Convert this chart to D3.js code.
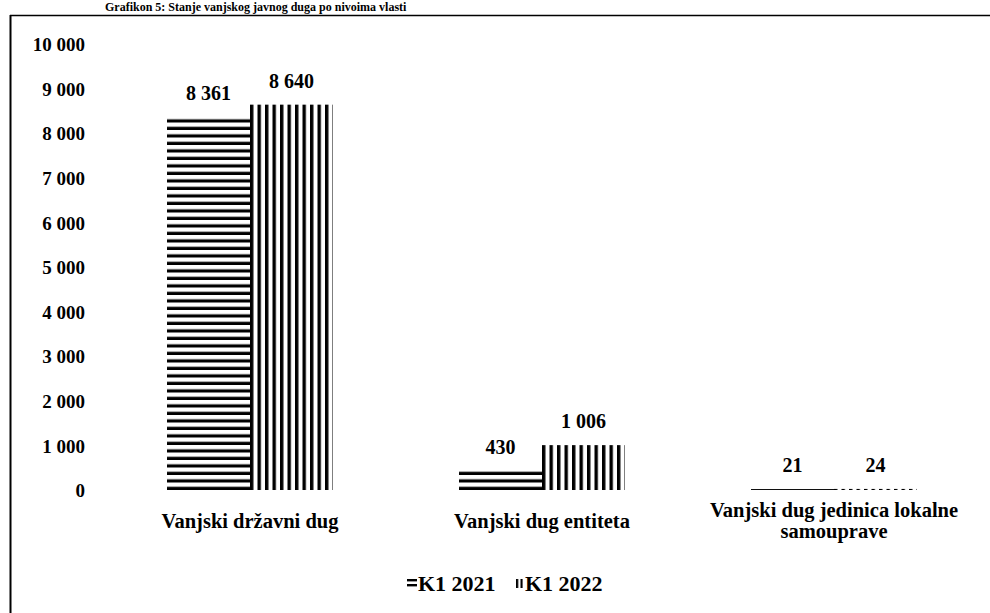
<!DOCTYPE html>
<html>
<head>
<meta charset="utf-8">
<script src="https://cdn.jsdelivr.net/npm/d3@7/dist/d3.min.js"></script>
<style>
  html, body { margin: 0; padding: 0; background: #fff; }
  svg { display: block; }
  text { font-family: "Liberation Serif", "Times New Roman", serif; fill: #000; }
</style>
</head>
<body>
<svg id="chart" width="990" height="613"></svg>
<script>
// ---- data ----
const titleText = "Grafikon 5: Stanje vanjskog javnog duga po nivoima vlasti";
const categories = [
  ["Vanjski državni dug"],
  ["Vanjski dug entiteta"],
  ["Vanjski dug jedinica lokalne", "samouprave"]
];
const seriesNames = ["K1 2021", "K1 2022"];
const seriesK12021 = [8361, 430, 21];
const seriesK12022 = [8640, 1006, 24];
const yTicks = [0, 1000, 2000, 3000, 4000, 5000, 6000, 7000, 8000, 9000, 10000];

const series = [seriesK12021, seriesK12022];
const catKeys = categories.map((c, i) => i);

const svg = d3.select("#chart");
const locale = d3.formatLocale({decimal: ",", thousands: " ", grouping: [3], currency: ["", ""]});
const fmt = locale.format(",d");

const baseY = 490;
const y = d3.scaleLinear().domain([0, 10000]).range([baseY, 44]);
const x0 = d3.scalePoint().domain(catKeys).range([250, 834]);
const x1 = d3.scaleBand().domain([0, 1]).range([-83, 83]).padding(0);

// patterns
const defs = svg.append("defs");
const period = 7.5;
const ph = defs.append("pattern").attr("id", "phoriz")
  .attr("patternUnits", "userSpaceOnUse")
  .attr("width", 10).attr("height", period)
  .attr("y", baseY % period);
ph.append("rect").attr("x", 0).attr("y", period - 3.2).attr("width", 10).attr("height", 3.2).attr("fill", "#000");

const pv = defs.append("pattern").attr("id", "pvert")
  .attr("patternUnits", "userSpaceOnUse")
  .attr("width", period).attr("height", 10);
pv.append("rect").attr("x", 0).attr("y", 0).attr("width", 3.4).attr("height", 10).attr("fill", "#000");

const lh = defs.append("pattern").attr("id", "lhoriz")
  .attr("patternUnits", "userSpaceOnUse").attr("width", 10).attr("height", 5);
lh.append("rect").attr("x", 0).attr("y", 0).attr("width", 10).attr("height", 2.4).attr("fill", "#000");
const lv = defs.append("pattern").attr("id", "lvert")
  .attr("patternUnits", "userSpaceOnUse").attr("width", 4.5).attr("height", 10);
lv.append("rect").attr("x", 0).attr("y", 0).attr("width", 2.2).attr("height", 10).attr("fill", "#000");

const fills = ["url(#phoriz)", "url(#pvert)"];
const legendFills = ["url(#lhoriz)", "url(#lvert)"];

// frame
svg.append("line").attr("x1", 10).attr("x2", 990).attr("y1", 15.5).attr("y2", 15.5)
  .attr("stroke", "#000").attr("stroke-width", 1.4);
svg.append("line").attr("x1", 10.5).attr("x2", 10.5).attr("y1", 15).attr("y2", 613)
  .attr("stroke", "#000").attr("stroke-width", 2);

// title (cut off at the top in the source scan; kept readable here)
svg.append("text").attr("x", 105).attr("y", 11)
  .attr("font-size", 12).attr("font-weight", "bold").text(titleText);

// y axis labels
const yAxis = d3.axisLeft(y).tickValues(yTicks).tickFormat(fmt).tickSize(0).tickPadding(0);
const ga = svg.append("g").attr("transform", "translate(85,0)").call(yAxis);
ga.select(".domain").remove();
ga.selectAll("text")
  .attr("font-family", "Liberation Serif, serif")
  .attr("font-size", 19).attr("font-weight", "bold").attr("fill", "#000")
  .attr("dy", "0.35em");

// bars
const groups = svg.append("g").selectAll("g.cat").data(catKeys).join("g")
  .attr("transform", d => `translate(${x0(d)},0)`);

series.forEach((vals, si) => {
  groups.append("g")
    .attr("transform", d => `translate(${x1(si)},0)`)
    .append("rect")
    .attr("x", 0)
    .attr("width", x1.bandwidth())
    .attr("y", d => y(vals[d]))
    .attr("height", d => baseY - y(vals[d]))
    .attr("fill", fills[si]);
  groups.append("text")
    .attr("x", x1(si) + x1.bandwidth() / 2)
    .attr("y", d => y(vals[d]) - 17)
    .attr("text-anchor", "middle")
    .attr("font-size", 20).attr("font-weight", "bold")
    .text(d => fmt(vals[d]));
});

// category labels
groups.each(function(d) {
  const g = d3.select(this);
  const lines = categories[d];
  const t = g.append("text").attr("text-anchor", "middle")
    .attr("font-size", 20.5).attr("font-weight", "bold");
  const startY = lines.length > 1 ? 517 : 528;
  lines.forEach((ln, i) => {
    t.append("tspan").attr("x", 0).attr("y", startY + i * 21).text(ln);
  });
});

// legend
const legendX = [407, 516];
seriesNames.forEach((name, i) => {
  const lg = svg.append("g").attr("transform", `translate(${legendX[i]},579)`);
  lg.append("rect").attr("x", 0).attr("y", 0).attr("width", i === 0 ? 10 : 7).attr("height", 9)
    .attr("fill", legendFills[i]);
  lg.append("text").attr("x", i === 0 ? 11 : 9).attr("y", 12)
    .attr("font-size", 22).attr("font-weight", "bold").text(name);
});
</script>
</body>
</html>
